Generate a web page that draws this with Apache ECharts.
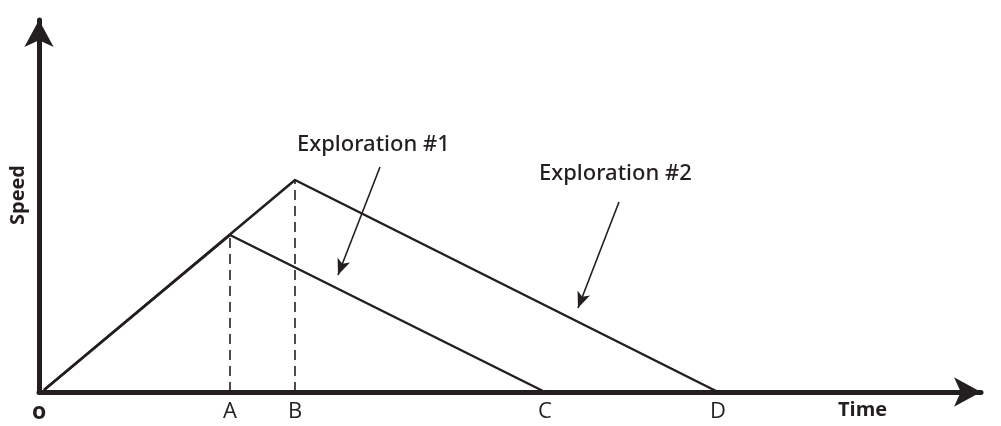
<!DOCTYPE html>
<html>
<head>
<meta charset="utf-8">
<style>
  html, body { margin: 0; padding: 0; background: #fff; }
  #chart { width: 1001px; height: 426px; }
</style>
<script src="https://cdn.jsdelivr.net/npm/echarts@6/dist/echarts.min.js"></script>
</head>
<body>
<div id="chart"></div>
<script>
// Time points marked on the horizontal axis and their labels
const tickLabels = ['o', 'A', 'B', 'C', 'D'];
const tickValues = [0, 191, 256, 506, 679];

// Speed profiles: accelerate to a peak, then decelerate to a stop
const exploration1 = [[5, 2], [191, 157], [506, 0]];
const exploration2 = [[5, 2], [256, 212], [679, 0]];

// Dashed drop lines from each peak to the time axis
const dropA = [[191, 0], [191, 157]];
const dropB = [[256, 0], [256, 212]];

// Pointer arrows from each caption to its curve
const pointer1 = [[341, 225], [299, 117]];
const pointer2 = [[580, 190], [539, 84]];

const ink = '#231f20';
const chart = echarts.init(document.getElementById('chart'));

const labelOf = {};
tickValues.forEach((v, i) => { labelOf[v] = tickLabels[i]; });

chart.setOption({
  animation: false,
  grid: { left: 39, right: 20, top: 20, bottom: 34 },
  xAxis: {
    type: 'value', min: 0, max: 942,
    splitLine: { show: false },
    axisTick: { show: false },
    axisLine: {
      onZero: false,
      lineStyle: { color: ink, width: 5 },
      symbol: ['none', 'arrow'], symbolSize: [22, 27]
    },
    axisLabel: {
      customValues: tickValues,
      margin: 9,
      formatter: v => labelOf[v] === 'o' ? '{b|o}' : labelOf[v],
      color: ink,
      fontFamily: 'Open Sans', fontSize: 22,
      rich: { b: { fontFamily: 'Open Sans', fontWeight: 'bold', fontSize: 23, color: ink } }
    }
  },
  yAxis: {
    type: 'value', min: 0, max: 372,
    splitLine: { show: false },
    axisTick: { show: false },
    axisLabel: { show: false },
    axisLine: {
      show: true, onZero: false,
      lineStyle: { color: ink, width: 5 },
      symbol: ['none', 'arrow'], symbolSize: [22, 27]
    }
  },
  graphic: [
    { type: 'text', left: 838, top: 400,
      style: { text: 'Time', font: 'bold 20px "Open Sans"', fill: ink } },
    { type: 'text', x: 18, y: 195, rotation: Math.PI / 2,
      style: { text: 'Speed', font: 'bold 20px "Open Sans"', fill: ink,
               align: 'center', verticalAlign: 'middle' } },
    { type: 'text', left: 297, top: 134,
      style: { text: 'Exploration #1', font: '500 22px "Noto Sans"', fill: ink } },
    { type: 'text', left: 539, top: 163,
      style: { text: 'Exploration #2', font: '500 22px "Noto Sans"', fill: ink } }
  ],
  series: [
    { type: 'line', data: exploration1, symbol: 'none', silent: true,
      lineStyle: { color: ink, width: 2.5, join: 'round' } },
    { type: 'line', data: exploration2, symbol: 'none', silent: true,
      lineStyle: { color: ink, width: 2.5, join: 'round' } },
    { type: 'line', data: dropA, symbol: 'none', silent: true,
      lineStyle: { color: ink, width: 1.6, type: [10, 6] } },
    { type: 'line', data: dropB, symbol: 'none', silent: true,
      lineStyle: { color: ink, width: 1.6, type: [10, 6] } },
    { type: 'line', data: [], silent: true,
      markLine: {
        silent: true, animation: false,
        symbol: ['none', 'arrow'], symbolSize: [10, 16],
        label: { show: false },
        lineStyle: { color: ink, width: 1.6, type: 'solid' },
        data: [
          [{ coord: pointer1[0] }, { coord: pointer1[1] }],
          [{ coord: pointer2[0] }, { coord: pointer2[1] }]
        ]
      } }
  ]
});
</script>
</body>
</html>
